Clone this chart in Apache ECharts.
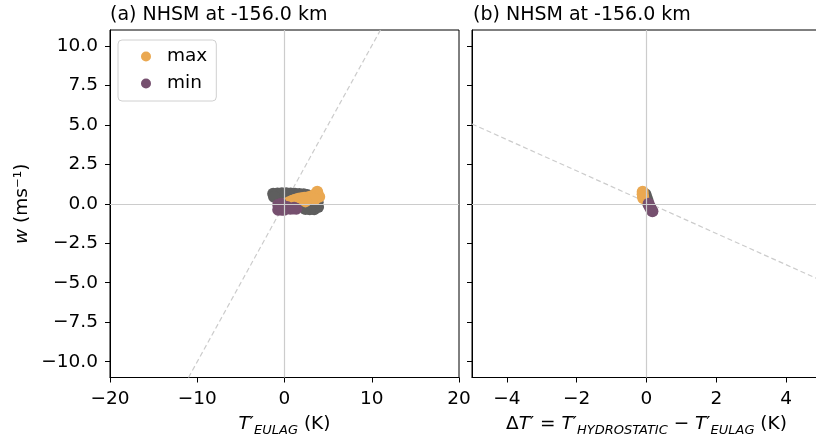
<!DOCTYPE html>
<html>
<head>
<meta charset="utf-8">
<script src="https://cdn.jsdelivr.net/npm/echarts@6/dist/echarts.min.js"></script>
<style>
  html, body { margin: 0; padding: 0; background: #fff; }
  #chart { width: 816px; height: 441px; }
</style>
</head>
<body>
<div id="chart"></div>
<script>
// panel (a): T'_EULAG vs w
const leftGray = [[-1.3, 0.63], [-0.8, 0.65], [-0.3, 0.66], [0.2, 0.66], [0.7, 0.65], [1.2, 0.64], [1.7, 0.62],
  [2.2, 0.6], [2.6, 0.55], [-1.2, 0.45], [3.0, 0.2], [3.5, 0.0], [3.85, -0.2], [3.4, -0.35], [2.9, -0.35],
  [2.4, -0.33], [3.8, 0.1]];
const leftMax = [[0.2, 0.0], [0.5, 0.1], [0.88, 0.19], [1.2, 0.26], [1.57, 0.32], [1.9, 0.35], [2.26, 0.38],
  [2.6, 0.4], [2.95, 0.44], [3.3, 0.52], [3.64, 0.63], [3.75, 0.76], [3.98, 0.44], [3.5, 0.3], [2.4, 0.15]];
const leftMin = [[-0.72, -0.06], [-0.38, 0.0], [-0.72, -0.38], [-0.3, -0.38], [-0.03, -0.38], [0.3, -0.2],
  [0.66, -0.32], [1.0, -0.3], [1.35, -0.32], [1.1, -0.25], [-0.5, -0.2]];

// panel (b): dT' vs w
const rightGray = [[-0.03, 0.6], [0.0, 0.4], [0.03, 0.2], [0.05, 0.0]];
const rightMax = [[-0.11, 0.76], [-0.11, 0.6], [-0.1, 0.44], [-0.09, 0.35]];
const rightMin = [[0.06, 0.0], [0.08, -0.12], [0.11, -0.25], [0.14, -0.38], [0.17, -0.48]];

// reference lines
const diagLeft = [[-11, -11], [11, 11]];
const diagRight = [[-5, 5.05], [5, -4.85]];

const xTicksLeft = [-20, -10, 0, 10, 20];
const xTicksRight = [-4, -2, 0, 2, 4];
const yTicks = [-10, -7.5, -5, -2.5, 0, 2.5, 5, 7.5, 10];

const FONT = "DejaVu Sans";
const FS = 18.5;
const cMax = "#eaa851", cMin = "#76506f", cGray = "#5e5e5e", cRef = "#cccccc";

const minus = v => String(v).replace("-", "\u2212");

function xAxisOf(idx, lo, hi, ticks, name) {
  return {
    type: "value", gridIndex: idx, min: lo, max: hi,
    name: name, nameLocation: "middle", nameGap: 34,
    nameTextStyle: {
      fontFamily: FONT, color: "#000", fontSize: FS,
      rich: {
        n: { fontFamily: FONT, fontSize: FS, lineHeight: 26, color: "#000" },
        i: { fontFamily: FONT, fontSize: FS, lineHeight: 26, fontStyle: "italic", color: "#000" },
        s: { fontFamily: FONT, fontSize: 13, lineHeight: 13, fontStyle: "italic", verticalAlign: "bottom", color: "#000" }
      }
    },
    axisLine: { show: true, onZero: false, lineStyle: { color: "#000", width: 1 } },
    axisTick: { show: true, length: 5, customValues: ticks, lineStyle: { color: "#000" } },
    axisLabel: {
      customValues: ticks, margin: 12, fontFamily: FONT, fontSize: FS, color: "#000",
      formatter: v => minus(v)
    },
    splitLine: { show: false }
  };
}

function yAxisOf(idx, labels) {
  return {
    type: "value", gridIndex: idx, min: -11, max: 11,
    name: labels ? "{i|w} (ms\u207b\u00b9)" : "", nameLocation: "middle", nameGap: 78,
    nameTextStyle: {
      fontFamily: FONT, fontSize: FS, color: "#000",
      rich: { i: { fontFamily: FONT, fontSize: FS, fontStyle: "italic", color: "#000" } }
    },
    axisLine: { show: true, onZero: false, lineStyle: { color: "#000", width: 1 } },
    axisTick: { show: true, length: 5, customValues: yTicks, lineStyle: { color: "#000" } },
    axisLabel: {
      show: labels, customValues: yTicks, margin: 12, fontFamily: FONT, fontSize: FS, color: "#000",
      formatter: v => minus(v.toFixed(1))
    },
    splitLine: { show: false }
  };
}

function refSeries(idx, data) {
  return {
    type: "line", xAxisIndex: idx, yAxisIndex: idx, data: data, z: 1,
    symbol: "none", silent: true, clip: true,
    lineStyle: { color: cRef, width: 1.2, type: [5, 3] },
    markLine: {
      silent: true, symbol: "none", label: { show: false },
      lineStyle: { color: cRef, type: "solid", width: 1.2 },
      data: [{ xAxis: 0 }, { yAxis: 0 }]
    }
  };
}

function dots(idx, name, data, color) {
  return {
    name: name, type: "scatter", xAxisIndex: idx, yAxisIndex: idx, data: data, z: 2,
    symbolSize: 12, itemStyle: { color: color, opacity: 1 }
  };
}

const chart = echarts.init(document.getElementById("chart"), null, { renderer: "canvas" });
chart.setOption({
  animation: false,
  backgroundColor: "#fff",
  title: [
    { text: "(a) NHSM at -156.0 km", left: 110, top: 6, padding: 0, textStyle: { fontFamily: FONT, fontSize: 19, fontWeight: "normal", color: "#000" } },
    { text: "(b) NHSM at -156.0 km", left: 473, top: 6, padding: 0, textStyle: { fontFamily: FONT, fontSize: 19, fontWeight: "normal", color: "#000" } }
  ],
  legend: {
    left: 118, top: 40, orient: "vertical",
    data: ["max", "min"],
    icon: "circle", itemWidth: 10, itemHeight: 10, itemGap: 8,
    padding: [7, 9, 8, 23],
    backgroundColor: "rgba(255,255,255,0.8)", borderColor: "#d0d0d0", borderWidth: 1, borderRadius: 4,
    textStyle: { fontFamily: FONT, fontSize: FS, color: "#000", padding: [0, 0, 0, 11] }
  },
  grid: [
    { left: 110, top: 30, width: 349, height: 347.5, outerBoundsMode: "none", containLabel: false,
      show: true, borderColor: "#000", borderWidth: 1, backgroundColor: "transparent" },
    { left: 472, top: 30, width: 349, height: 347.5, outerBoundsMode: "none", containLabel: false,
      show: true, borderColor: "#000", borderWidth: 1, backgroundColor: "transparent" }
  ],
  xAxis: [
    xAxisOf(0, -20, 20, xTicksLeft, "{i|T}{n|\u2032}{s|EULAG}{n| (K)}"),
    xAxisOf(1, -5, 5, xTicksRight, "{n|\u0394}{i|T}{n|\u2032 = }{i|T}{n|\u2032}{s|HYDROSTATIC}{n| \u2212 }{i|T}{n|\u2032}{s|EULAG}{n| (K)}")
  ],
  yAxis: [yAxisOf(0, true), yAxisOf(1, false)],
  series: [
    refSeries(0, diagLeft),
    refSeries(1, diagRight),
    dots(0, "gray", leftGray, cGray),
    dots(0, "max", leftMax, cMax),
    dots(0, "min", leftMin, cMin),
    dots(1, "gray", rightGray, cGray),
    dots(1, "max", rightMax, cMax),
    dots(1, "min", rightMin, cMin)
  ]
});
</script>
</body>
</html>
